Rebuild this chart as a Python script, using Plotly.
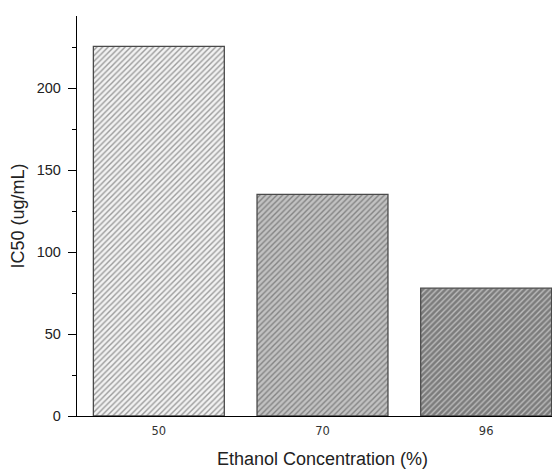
import plotly.graph_objects as go

categories = ["50", "70", "96"]
ic50_values = [225.5, 135.2, 78.0]
bg_colors = ["#f2f2f2", "#c2c2c2", "#7c7c7c"]
fg_colors = ["#bdbdbd", "#929292", "#555555"]

fig = go.Figure()
fig.add_trace(go.Bar(
    x=categories,
    y=ic50_values,
    width=0.8,
    marker=dict(
        color=bg_colors,
        line=dict(color="#4a4a4a", width=1.3),
        pattern=dict(shape="/", fgcolor=fg_colors,
                     size=4, solidity=0.35, fillmode="overlay"),
    ),
    showlegend=False,
))

fig.update_layout(
    width=560, height=472,
    margin=dict(l=69, r=0, t=8, b=64),
    plot_bgcolor="white", paper_bgcolor="white",
    font=dict(family="Liberation Sans, Arial, sans-serif", color="#222"),
)
fig.update_xaxes(
    type="category",
    range=[-0.5, 2.5],
    showline=True, linecolor="black", linewidth=1.3,
    ticks="", showgrid=False,
    ticklabelstandoff=4,
    tickfont=dict(size=11.5, family="DejaVu Sans, sans-serif", color="#333"),
    title=dict(text="Ethanol Concentration (%)", font=dict(size=18), standoff=15),
)
fig.update_yaxes(
    range=[0, 244],
    showline=True, linecolor="black", linewidth=1.3,
    ticks="outside", ticklen=8, tickwidth=1.3, tickcolor="black",
    tickvals=[0, 50, 100, 150, 200],
    minor=dict(tickvals=[25, 75, 125, 175, 225], ticks="outside", ticklen=4, tickcolor="black", tickwidth=1.2),
    showgrid=False, zeroline=False,
    ticklabelstandoff=4,
    tickfont=dict(size=14.5),
    title=dict(text="IC50 (ug/mL)", font=dict(size=18), standoff=10),
)

fig.write_html("out.html")
